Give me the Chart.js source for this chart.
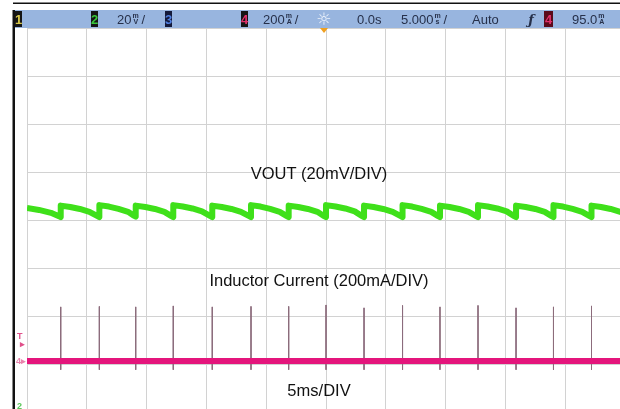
<!DOCTYPE html>
<html>
<head>
<meta charset="utf-8">
<script src="https://cdn.jsdelivr.net/npm/chart.js@4.4.1/dist/chart.umd.min.js"></script>
<style>
  html,body{margin:0;padding:0;background:#fff;width:620px;height:409px;overflow:hidden;}
  #wrap{position:absolute;left:0;top:0;width:640px;height:420px;}
</style>
</head>
<body>
<div id="wrap"><canvas id="scope" width="640" height="420"></canvas></div>
<script>
// time axis in ms (5 ms per division), vertical axis in divisions (8 div, centre = 0)
const X_DIVS = [0, 5, 10, 15, 20, 25, 30, 35, 40, 45, 50];

// CH2: VOUT ripple (20 mV/div), sawtooth recharged at every switching burst
const voutT = [
  0, 1.0, 2.0, 2.67, 2.82,
  2.82, 3.62, 4.42, 5.22, 5.90, 6.05,
  6.05, 6.85, 7.65, 8.45, 8.94, 9.09,
  9.09, 9.89, 10.69, 11.49, 12.08, 12.23,
  12.23, 13.03, 13.83, 14.63, 15.34, 15.49,
  15.49, 16.29, 17.09, 17.89, 18.58, 18.73,
  18.73, 19.53, 20.33, 21.13, 21.73, 21.88,
  21.88, 22.68, 23.48, 24.28, 24.85, 25.0,
  25.0, 25.8, 26.6, 27.4, 28.03, 28.18,
  28.18, 28.98, 29.78, 30.58, 31.25, 31.40,
  31.40, 32.2, 33.0, 33.8, 34.38, 34.53,
  34.53, 35.33, 36.13, 36.93, 37.56, 37.71,
  37.71, 38.51, 39.31, 40.11, 40.74, 40.89,
  40.89, 41.69, 42.49, 43.29, 43.87, 44.02,
  44.02, 44.82, 45.62, 46.42, 47.05, 47.2,
  47.2, 48.0, 48.8, 49.6, 50
];
const voutV = [
  0.25, 0.21, 0.15, 0.08, 0.06,
  0.30, 0.27, 0.23, 0.17, 0.08, 0.06,
  0.31, 0.28, 0.23, 0.17, 0.09, 0.07,
  0.30, 0.27, 0.23, 0.17, 0.08, 0.06,
  0.31, 0.28, 0.24, 0.18, 0.08, 0.06,
  0.30, 0.27, 0.23, 0.17, 0.08, 0.06,
  0.31, 0.28, 0.23, 0.17, 0.08, 0.06,
  0.30, 0.27, 0.23, 0.17, 0.08, 0.06,
  0.31, 0.28, 0.24, 0.18, 0.08, 0.06,
  0.30, 0.27, 0.23, 0.17, 0.08, 0.06,
  0.31, 0.28, 0.23, 0.17, 0.08, 0.06,
  0.30, 0.27, 0.23, 0.17, 0.08, 0.06,
  0.31, 0.28, 0.24, 0.18, 0.08, 0.06,
  0.30, 0.27, 0.23, 0.17, 0.08, 0.06,
  0.31, 0.28, 0.23, 0.17, 0.08, 0.06,
  0.30, 0.27, 0.23, 0.17, 0.14
];

// CH4: inductor current (200 mA/div) - baseline plus short bursts
const ilT = [0, 50];
const ilV = [-2.94, -2.94];
const burstT   = [2.82, 6.05, 9.09, 12.23, 15.49, 18.73, 21.88, 25.0, 28.18, 31.40, 34.53, 37.71, 40.89, 44.02, 47.2];
const burstTop = [-1.81, -1.80, -1.81, -1.79, -1.81, -1.80, -1.80, -1.77, -1.83, -1.78, -1.81, -1.78, -1.83, -1.81, -1.79];
const burstLow = -3.12;

// status line
const barItems = [
  {type:'chan', n:'1', x:15, bg:'#151515', fg:'#d8c84a'},
  {type:'chan', n:'2', x:91, bg:'#151515', fg:'#39c83a'},
  {type:'scale', val:'20', unit:'mV', x:117},
  {type:'chan', n:'3', x:165, bg:'#141a3a', fg:'#4f7fe0'},
  {type:'chan', n:'4', x:241, bg:'#151515', fg:'#e0306a'},
  {type:'scale', val:'200', unit:'mA', x:263},
  {type:'text', txt:'0.0s', x:357},
  {type:'scale', val:'5.000', unit:'ms', x:401},
  {type:'text', txt:'Auto', x:472},
  {type:'chan', n:'4', x:544, bg:'#5a0a1a', fg:'#e0306a', w:9},
  {type:'val', val:'95.0', unit:'mA', x:572}
];
const traceLabels = [
  {txt:'VOUT (20mV/DIV)', y:174},
  {txt:'Inductor Current (200mA/DIV)', y:281},
  {txt:'5ms/DIV', y:391}
];

const vout = voutT.map((t,i)=>({x:t, y:voutV[i]}));
const il = ilT.map((t,i)=>({x:t, y:ilV[i]}));
const bursts = [];
burstT.forEach((t,i)=>{
  bursts.push({x:t, y:burstTop[i]}, {x:t, y:burstLow}, {x:t, y:null});
});

const screenDeco = {
  id:'screenDeco',
  afterDraw(chart){
    const c = chart.ctx;
    c.save();
    // frame
    c.fillStyle = '#111';
    c.fillRect(13, 2.5, 620, 1.5);
    c.fillRect(12.5, 10, 2.5, 420);
    // status bar
    c.fillStyle = '#98b5df';
    c.fillRect(15, 10, 620, 18);
    c.textBaseline = 'alphabetic';
    barItems.forEach(it=>{
      if(it.type==='chan'){
        const w = it.w || 7;
        c.fillStyle = it.bg;
        c.fillRect(it.x, 11, w, 16);
        c.fillStyle = it.fg;
        c.font = 'bold 13px "Liberation Sans", Arial, sans-serif';
        c.textAlign = 'center';
        c.fillText(it.n, it.x + w/2, 24);
        return;
      }
      c.fillStyle = '#26304a';
      c.textAlign = 'left';
      c.font = '13px "Liberation Sans", Arial, sans-serif';
      if(it.type==='text'){
        c.fillText(it.txt, it.x, 24);
        return;
      }
      c.fillText(it.val, it.x, 24);
      let x = it.x + c.measureText(it.val).width + 1;
      c.font = 'bold 7px "Liberation Sans", Arial, sans-serif';
      c.fillText(it.unit.charAt(0), x, 18);
      c.fillText(it.unit.charAt(1), x + 1, 24);
      x += 8;
      if(it.type==='scale'){
        c.font = '13px "Liberation Sans", Arial, sans-serif';
        c.fillText('/', x + 1, 24);
      }
    });
    // brightness icon and trigger symbol
    c.textAlign = 'center';
    c.fillStyle = '#eef3fc';
    c.font = '17px "DejaVu Sans", sans-serif';
    c.fillText('\u263C', 324, 25);
    c.fillStyle = '#26304a';
    c.font = 'bold italic 13px "DejaVu Serif", serif';
    c.fillText('\u0192', 531, 24);
    // trigger position marker
    c.fillStyle = '#f0a020';
    c.beginPath();
    c.moveTo(320, 28); c.lineTo(328, 28); c.lineTo(324, 33); c.closePath();
    c.fill();
    // ground / trigger level markers
    c.font = 'bold 9px "Liberation Sans", Arial, sans-serif';
    c.textAlign = 'left';
    c.fillStyle = '#e0508a';
    c.fillText('T', 17, 339);
    c.fillText('\u25B8', 20, 347);
    c.fillStyle = 'rgba(224,80,138,0.7)';
    c.fillText('4', 16, 364);
    c.fillText('\u25B8', 21, 364);
    c.fillStyle = '#5ac85a';
    c.fillText('2', 17, 409);
    // trace annotations
    c.fillStyle = '#111';
    c.font = '16.5px "Liberation Sans", Arial, sans-serif';
    c.textAlign = 'center';
    c.textBaseline = 'middle';
    traceLabels.forEach(l=>c.fillText(l.txt, 319, l.y));
    c.restore();
  }
};

new Chart(document.getElementById('scope'), {
  type:'line',
  data:{
    datasets:[
      {data:vout, borderColor:'#3fe01a', borderWidth:6, pointRadius:0, tension:0, borderJoinStyle:'round'},
      {data:vout, borderColor:'rgba(40,170,20,0.55)', borderWidth:1.2, pointRadius:0, tension:0},
      {data:il, borderColor:'#e4157c', borderWidth:6, pointRadius:0},
      {data:il, borderColor:'rgba(170,10,80,0.45)', borderWidth:1, pointRadius:0},
      {data:bursts, borderColor:'#8c6c7c', borderWidth:1, pointRadius:0, spanGaps:false}
    ]
  },
  options:{
    responsive:false,
    devicePixelRatio:1,
    animation:false,
    layout:{padding:{left:27, top:28, right:15, bottom:8}},
    plugins:{legend:{display:false}, tooltip:{enabled:false}},
    scales:{
      x:{
        type:'linear', min:0, max:50,
        afterBuildTicks:(s)=>{ s.ticks = X_DIVS.map(v=>({value:v})); },
        ticks:{display:false},
        grid:{color:'#d2d2d2', lineWidth:1, drawTicks:false},
        border:{display:false}
      },
      y:{
        type:'linear', min:-4, max:4,
        ticks:{display:false, stepSize:1},
        grid:{color:'#d2d2d2', lineWidth:1, drawTicks:false},
        border:{display:false}
      }
    }
  },
  plugins:[screenDeco]
});
</script>
</body>
</html>
